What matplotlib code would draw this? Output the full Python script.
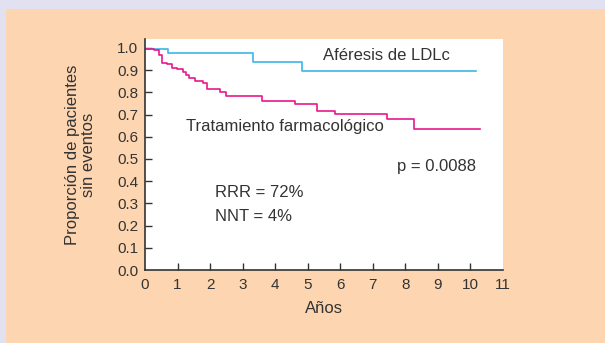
import numpy as np
import matplotlib
matplotlib.use("Agg")
import matplotlib.pyplot as plt
from matplotlib.patches import Rectangle

plt.rcParams['font.family'] = ['Liberation Sans', 'DejaVu Sans']

# Kaplan-Meier style step curves (time in years, proportion event-free)
afe_t = [0.0, 0.70, 3.31, 4.83, 10.18]
afe_s = [0.997, 0.976, 0.937, 0.897, 0.897]

far_t = [0.0, 0.28, 0.43, 0.52, 0.67, 0.84, 0.97, 1.18, 1.26, 1.36, 1.54, 1.77,
         1.90, 2.31, 2.49, 3.59, 4.61, 5.27, 5.83, 7.43, 8.25, 10.29]
far_s = [0.997, 0.991, 0.970, 0.931, 0.928, 0.909, 0.905, 0.892, 0.880, 0.864,
         0.850, 0.841, 0.817, 0.803, 0.782, 0.759, 0.747, 0.716, 0.702, 0.680,
         0.637, 0.637]

xticks = list(range(0, 12))
yticks = [round(0.1 * i, 1) for i in range(11)]

LAV = "#e1e1f1"
PEACH = "#fdd5b1"
TXT = "#333333"
FS = 12

fig = plt.figure(figsize=(6.05, 3.43), dpi=100, facecolor=LAV)
fig.patches.append(Rectangle((6/605, 0), 1, 1 - 9/343, transform=fig.transFigure,
                             facecolor=PEACH, edgecolor="none", zorder=-10))
ax = fig.add_axes([145/605, 1 - 270/343, 358/605, 231/343])
ax.set_facecolor("white")

ax.step(afe_t, afe_s, where="post", color="#3cb6e8", lw=1.2)
ax.step(far_t, far_s, where="post", color="#e8198c", lw=1.2)

ax.set_xlim(0, 11)
ax.set_ylim(0, 1.04)
ax.set_xticks(xticks)
ax.set_yticks(yticks)
ax.set_yticklabels([f"{v:.1f}" for v in yticks])
for s in ("top", "right"):
    ax.spines[s].set_visible(False)
for s in ("left", "bottom"):
    ax.spines[s].set_color(TXT)
    ax.spines[s].set_linewidth(1.2)
ax.tick_params(axis="both", direction="in", length=5, width=1, color=TXT,
               labelcolor=TXT, labelsize=11)
ax.tick_params(axis="x", pad=6)
ax.tick_params(axis="y", pad=5)
# no tick marks at the axis ends
for t in (ax.xaxis.get_major_ticks()[0], ax.xaxis.get_major_ticks()[-1],
          ax.yaxis.get_major_ticks()[0]):
    t.tick1line.set_visible(False)

ax.set_xlabel("Años", fontsize=FS, color=TXT, labelpad=6)
ax.set_ylabel("Proporción de pacientes\nsin eventos", fontsize=FS, color=TXT,
              labelpad=15, linespacing=1.05)

kw = dict(fontsize=FS, color=TXT, va="center", ha="left")
ax.text(5.48, 0.964, "Aféresis de LDLc", **kw)
ax.text(1.26, 0.645, "Tratamiento farmacológico", **kw)
ax.text(7.75, 0.468, "p = 0.0088", **kw)
ax.text(2.15, 0.348, "RRR = 72%", **kw)
ax.text(2.15, 0.240, "NNT = 4%", **kw)

fig.savefig("out.png", dpi=100, facecolor=LAV)
